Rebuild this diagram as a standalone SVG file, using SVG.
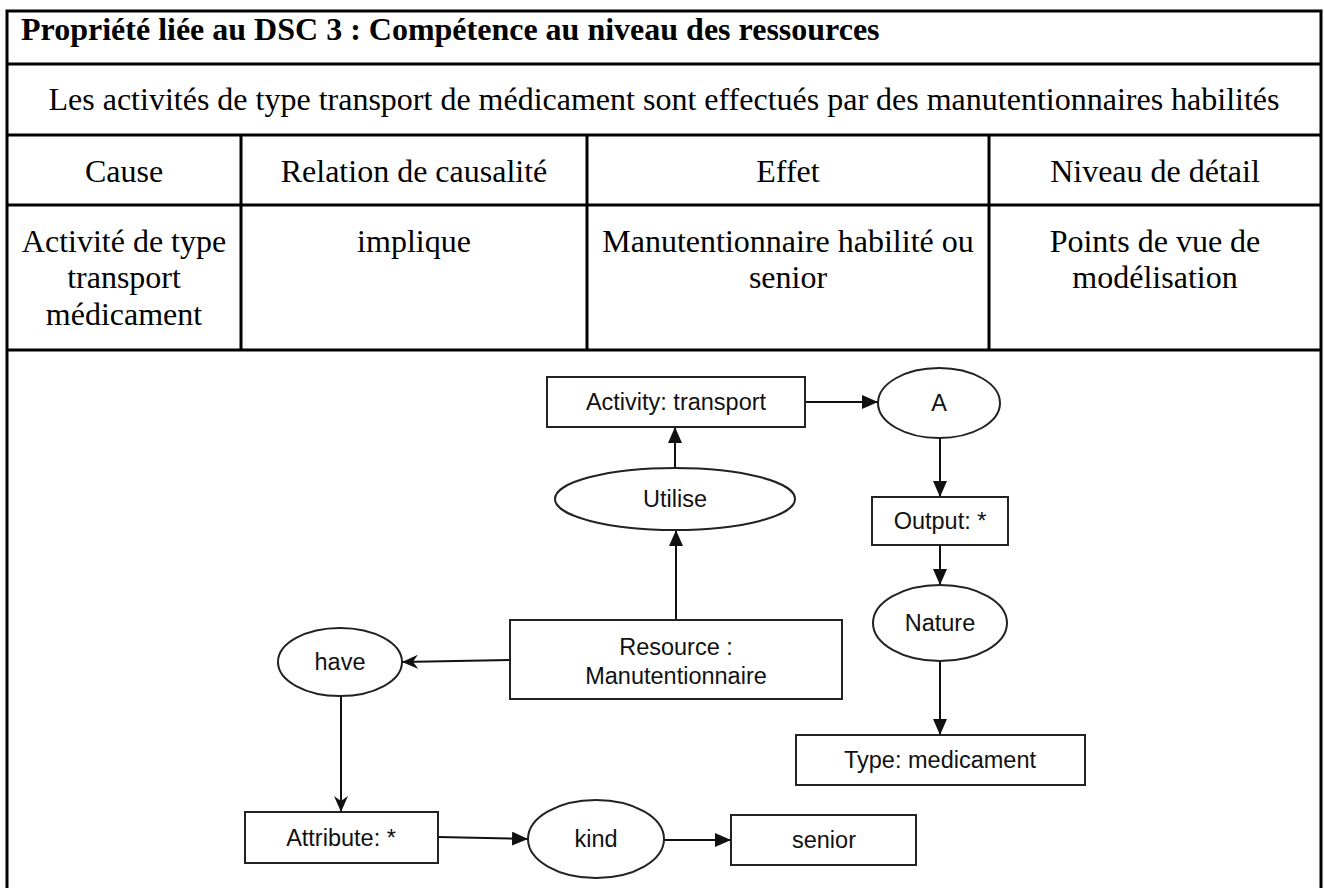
<svg xmlns="http://www.w3.org/2000/svg" width="1324" height="888" viewBox="0 0 1324 888">
<style>
.tl{stroke:#000;stroke-width:3;fill:none}
.tt{font-family:"Liberation Serif","Times New Roman",serif;font-size:32px;fill:#000}
.tb{font-weight:bold}
.mid{text-anchor:middle}
.nd{fill:#fff;stroke:#222;stroke-width:2}
.nt{font-family:"Liberation Sans",Arial,sans-serif;font-size:23.5px;fill:#111;text-anchor:middle}
.cn{stroke:#111;stroke-width:2;fill:none}
</style>
<defs>
<marker id="tri" markerUnits="userSpaceOnUse" markerWidth="18" markerHeight="16" refX="16" refY="7" orient="auto">
<path d="M0,0 L16,7 L0,14 z" fill="#111"/>
</marker>
<marker id="notch" markerUnits="userSpaceOnUse" markerWidth="18" markerHeight="16" refX="16" refY="7" orient="auto">
<path d="M0,0 L16,7 L0,14 L5,7 z" fill="#111"/>
</marker>
</defs>
<rect width="1324" height="888" fill="#fff"/>
<g id="table">
<path class="tl" d="M7,888 V11 H1321 V888"/>
<path class="tl" d="M7,64 H1321 M7,135 H1321 M7,205 H1321 M7,350 H1321"/>
<path class="tl" d="M241,135 V350 M587,135 V350 M989,135 V350"/>
<text class="tt tb" x="21" y="40">Propriété liée au DSC 3 : Compétence au niveau des ressources</text>
<text class="tt mid" x="664" y="110">Les activités de type transport de médicament sont effectués par des manutentionnaires habilités</text>
<text class="tt mid" x="124" y="182">Cause</text>
<text class="tt mid" x="414" y="182">Relation de causalité</text>
<text class="tt mid" x="788" y="182">Effet</text>
<text class="tt mid" x="1155" y="182">Niveau de détail</text>
<text class="tt mid" x="124" y="252">Activité de type</text>
<text class="tt mid" x="124" y="288">transport</text>
<text class="tt mid" x="124" y="325">médicament</text>
<text class="tt mid" x="414" y="252">implique</text>
<text class="tt mid" x="788" y="252">Manutentionnaire habilité ou</text>
<text class="tt mid" x="788" y="288">senior</text>
<text class="tt mid" x="1155" y="252">Points de vue de</text>
<text class="tt mid" x="1155" y="288">modélisation</text>
</g>
<g id="connectors">
<line class="cn" x1="805" y1="402" x2="878" y2="402" marker-end="url(#tri)"/>
<line class="cn" x1="675" y1="468" x2="675" y2="427" marker-end="url(#tri)"/>
<line class="cn" x1="676" y1="620" x2="676" y2="530" marker-end="url(#tri)"/>
<line class="cn" x1="940" y1="438" x2="940" y2="497" marker-end="url(#tri)"/>
<line class="cn" x1="940" y1="545" x2="940" y2="585" marker-end="url(#tri)"/>
<line class="cn" x1="940" y1="661" x2="940" y2="735" marker-end="url(#tri)"/>
<line class="cn" x1="510" y1="660" x2="402" y2="662" marker-end="url(#notch)"/>
<line class="cn" x1="341" y1="696" x2="341" y2="812" marker-end="url(#notch)"/>
<line class="cn" x1="438" y1="837" x2="528" y2="839" marker-end="url(#tri)"/>
<line class="cn" x1="664" y1="840" x2="731" y2="840" marker-end="url(#tri)"/>
</g>
<g id="activity">
<rect class="nd" x="547" y="377" width="258" height="50"/>
<text class="nt" x="676" y="410">Activity: transport</text>
</g>
<g id="a">
<ellipse class="nd" cx="939" cy="403" rx="61" ry="35"/>
<text class="nt" x="939" y="411">A</text>
</g>
<g id="utilise">
<ellipse class="nd" cx="675" cy="499" rx="120" ry="31"/>
<text class="nt" x="675" y="507">Utilise</text>
</g>
<g id="output">
<rect class="nd" x="872" y="497" width="136" height="48"/>
<text class="nt" x="940" y="529">Output: *</text>
</g>
<g id="nature">
<ellipse class="nd" cx="940" cy="623" rx="67" ry="38"/>
<text class="nt" x="940" y="631">Nature</text>
</g>
<g id="type">
<rect class="nd" x="796" y="735" width="289" height="50"/>
<text class="nt" x="940" y="768">Type: medicament</text>
</g>
<g id="resource">
<rect class="nd" x="510" y="620" width="332" height="79"/>
<text class="nt" x="676" y="655">Resource :</text>
<text class="nt" x="676" y="684">Manutentionnaire</text>
</g>
<g id="have">
<ellipse class="nd" cx="340" cy="662" rx="62" ry="34"/>
<text class="nt" x="340" y="670">have</text>
</g>
<g id="attribute">
<rect class="nd" x="245" y="812" width="193" height="51"/>
<text class="nt" x="341" y="846">Attribute: *</text>
</g>
<g id="kind">
<ellipse class="nd" cx="596" cy="839" rx="68" ry="39"/>
<text class="nt" x="596" y="847">kind</text>
</g>
<g id="senior">
<rect class="nd" x="731" y="815" width="185" height="50"/>
<text class="nt" x="824" y="848">senior</text>
</g>
</svg>
